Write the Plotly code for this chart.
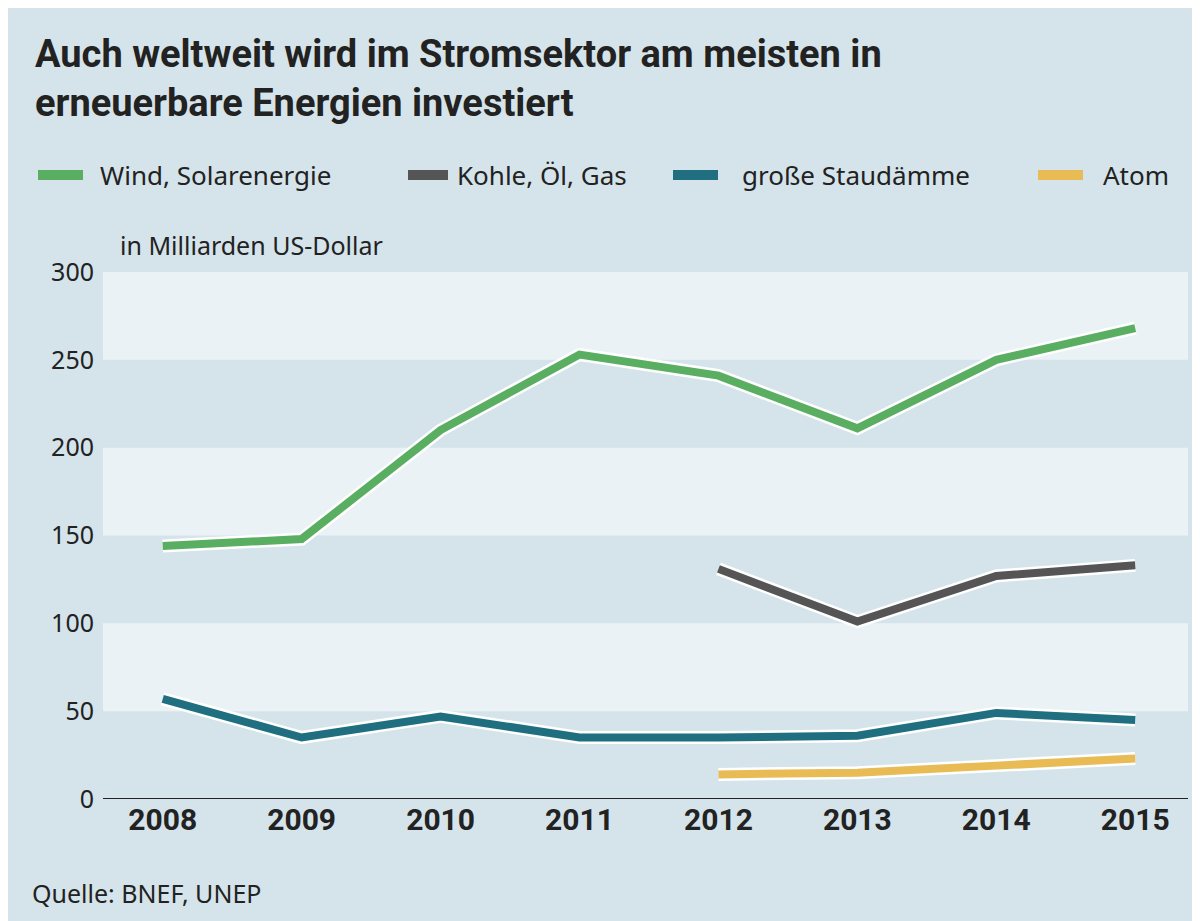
import plotly.graph_objects as go

years = [2008, 2009, 2010, 2011, 2012, 2013, 2014, 2015]
wind = [144, 148, 210, 253, 241, 211, 250, 268]
fossil = [None, None, None, None, 131, 101, 127, 133]
hydro = [57, 35, 47, 35, 35, 36, 49, 45]
atom = [None, None, None, None, 14, 15, 19, 23]

names = ["Wind, Solarenergie", "Kohle, Öl, Gas", "große Staudämme", "Atom"]
colors = ["#5aae61", "#555555", "#1f6f80", "#e8bb55"]
series = [wind, fossil, hydro, atom]
legend_px = [(30, 75, 90), (400, 440, 447), (665, 710, 732), (1030, 1075, 1093)]

W, H = 1200, 921
L, R, T, B = 95, 20, 264, 130
pw, ph = W - L - R, H - T - B
px = lambda x: (x - L) / pw
py = lambda y: (H - B - y) / ph

fig = go.Figure()
for s, c, n in zip(series, colors, names):
    fig.add_trace(go.Scatter(x=years, y=s, mode="lines", line=dict(color="white", width=13),
                             showlegend=False, hoverinfo="skip"))
    fig.add_trace(go.Scatter(x=years, y=s, mode="lines", line=dict(color=c, width=8),
                             name=n, showlegend=False))

bg = "#d5e4ea"
band = "#eaf2f5"
for y0, y1 in [(50, 100), (150, 200), (250, 300)]:
    fig.add_shape(type="rect", xref="paper", yref="y", x0=0, x1=1, y0=y0, y1=y1,
                  fillcolor=band, line_width=0, layer="below")
fig.add_shape(type="line", xref="paper", yref="y", x0=0, x1=1, y0=0, y1=0,
              line=dict(color="#222", width=2))

font = "Noto Sans, sans-serif"
cond = "Liberation Sans Narrow, Roboto, sans-serif"
for (a, b, t), c, n in zip(legend_px, colors, names):
    fig.add_shape(type="line", xref="paper", yref="paper", x0=px(a), x1=px(b),
                  y0=py(167), y1=py(167), line=dict(color=c, width=10))
    fig.add_annotation(xref="paper", yref="paper", x=px(t), y=py(167), xanchor="left",
                       yanchor="middle", text=n, showarrow=False, font=dict(size=26))

fig.update_layout(
    width=W, height=H, paper_bgcolor=bg, plot_bgcolor=bg,
    margin=dict(l=L, r=R, t=T, b=B),
    font=dict(family=font, size=24, color="#222"),
    xaxis=dict(range=[2007.57, 2015.38], tickvals=years, showgrid=False, zeroline=False,
               tickfont=dict(size=30, family=cond, weight="bold")),
    yaxis=dict(range=[0, 300], tickvals=[0, 50, 100, 150, 200, 250, 300], showgrid=False,
               zeroline=False, tickfont=dict(size=25), ticklabelstandoff=8),
    showlegend=False,
)
fig.add_annotation(xref="paper", yref="paper", x=px(25), y=py(22), xanchor="left", yanchor="top",
                   text="Auch weltweit wird im Stromsektor am meisten in<br>erneuerbare Energien investiert",
                   showarrow=False, align="left",
                   font=dict(size=38, family=cond, weight="bold", color="#222"))
fig.add_annotation(xref="paper", yref="paper", x=px(110), y=py(237), xanchor="left", yanchor="middle",
                   text="in Milliarden US-Dollar", showarrow=False, font=dict(size=25))
fig.add_annotation(xref="paper", yref="paper", x=px(22), y=py(885), xanchor="left", yanchor="middle",
                   text="Quelle: BNEF, UNEP", showarrow=False, font=dict(size=25))
fig.write_html("out.html")
